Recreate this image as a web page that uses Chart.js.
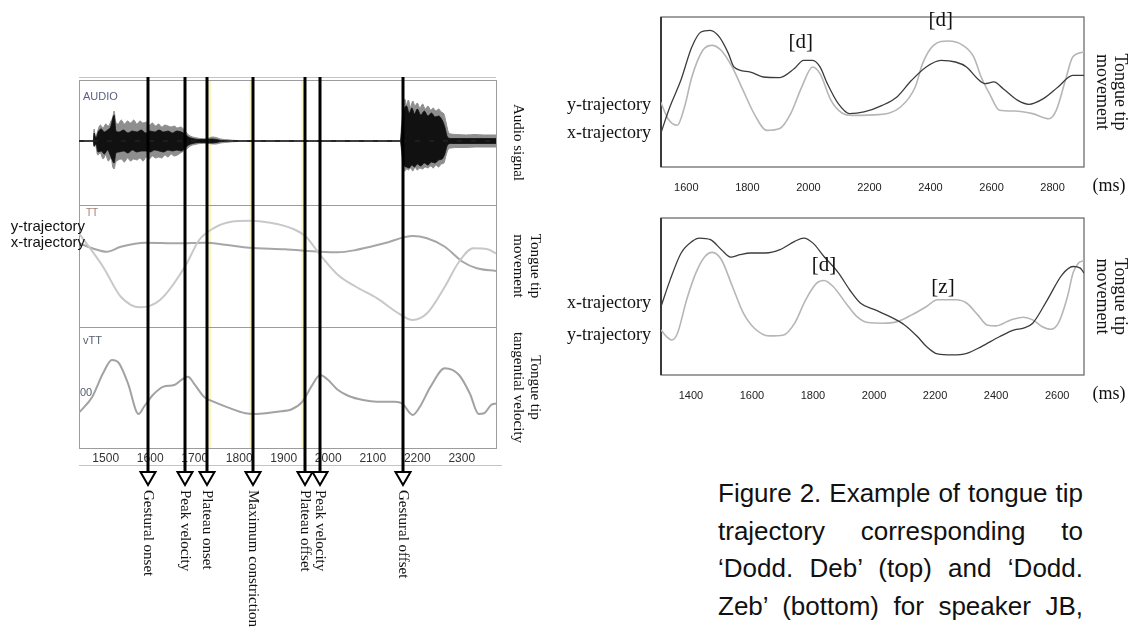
<!DOCTYPE html>
<html>
<head>
<meta charset="utf-8">
<script src="https://cdn.jsdelivr.net/npm/chart.js@4.4.0/dist/chart.umd.min.js"></script>
<style>
  html, body { margin: 0; padding: 0; background: #fff; }
  body { width: 1135px; height: 628px; position: relative; overflow: hidden; }
  canvas { position: absolute; }
  #left { left: 0; top: 0; }
  #deb { left: 560px; top: 0; }
  #zeb { left: 560px; top: 200px; }
  #caption { position: absolute; left: 718px; top: 475px; width: 365px;
    font-family: "Liberation Sans", Arial, sans-serif; font-size: 26px; color: #111; }
  #caption div { height: 37.6px; line-height: 37.6px; text-align: justify; text-align-last: justify; }
</style>
</head>
<body>
<canvas id="left" width="560" height="628"></canvas>
<canvas id="deb" width="575" height="210"></canvas>
<canvas id="zeb" width="575" height="210"></canvas>
<div id="caption">
  <div>Figure 2. Example of tongue tip</div>
  <div>trajectory corresponding to</div>
  <div>‘Dodd. Deb’ (top) and ‘Dodd.</div>
  <div>Zeb’ (bottom) for speaker JB,</div>
</div>
<script>
/* ---------------- left figure: AUDIO / TT / vTT (ms) ---------------- */

const leftRange = [1440, 2377];
const leftTicks = [1500, 1600, 1700, 1800, 1900, 2000, 2100, 2200, 2300];

const eventNames = ["Gestural onset", "Peak velocity", "Plateau onset", "Maximum constriction",
  "Plateau offset", "Peak velocity", "Gestural offset"];
const eventTimes = [1595, 1678, 1728, 1831, 1948, 1982, 2168];
const yellowTimes = [1734, 1826, 1943];

// waveform envelope: [ms, above, below] around the silence line
const audioOuter = [
  [1440, 0.5, 0.5], [1472, 0.5, 0.5], [1474, 12, 6], [1477, 3, 4], [1482, 10, 14], [1488, 16, 12],
  [1494, 13, 18], [1500, 17, 14], [1506, 15, 20], [1512, 20, 17], [1516, 24, 26], [1519, 30, 28],
  [1522, 20, 22], [1528, 17, 19], [1535, 21, 18], [1542, 17, 21], [1549, 20, 17], [1556, 18, 20],
  [1563, 21, 18], [1570, 17, 19], [1577, 20, 17], [1584, 18, 20], [1591, 19, 16], [1598, 16, 18],
  [1605, 18, 15], [1612, 15, 17], [1619, 17, 16], [1626, 14, 17], [1633, 16, 14], [1640, 15, 16],
  [1647, 14, 13], [1654, 15, 15], [1661, 13, 14], [1668, 14, 12], [1675, 12, 10], [1682, 8, 8],
  [1690, 5, 5], [1700, 3.5, 3.5], [1712, 2.5, 2.5], [1725, 2, 2], [1740, 4, 3], [1748, 3.5, 3],
  [1758, 2, 2], [1775, 1.2, 1.2], [1795, 0.5, 0.5], [2162, 0.5, 0.5], [2165, 18, 12], [2168, 30, 26],
  [2172, 42, 30], [2176, 36, 28], [2180, 41, 29], [2185, 34, 27], [2190, 40, 30], [2195, 35, 26],
  [2200, 38, 29], [2206, 33, 27], [2212, 37, 28], [2218, 32, 26], [2224, 35, 27], [2230, 31, 25],
  [2236, 33, 27], [2242, 30, 24], [2248, 32, 26], [2254, 29, 23], [2260, 27, 22], [2265, 18, 14],
  [2270, 9, 8], [2276, 7, 7], [2290, 6.5, 6.5], [2310, 6, 6.5], [2330, 6.5, 6], [2350, 6, 6], [2377, 6, 6]
];
const audioInner = [
  [1440, 0, 0], [1472, 0, 0], [1474, 8, 5], [1478, 3, 3], [1483, 9, 11], [1490, 12, 10],
  [1497, 9, 13], [1504, 11, 9], [1511, 14, 15], [1519, 26, 22], [1523, 10, 12], [1530, 9, 11],
  [1540, 11, 10], [1550, 8, 12], [1560, 10, 9], [1570, 9, 11], [1580, 11, 10], [1590, 8, 10],
  [1600, 10, 11], [1610, 9, 9], [1620, 11, 10], [1630, 9, 11], [1640, 10, 9], [1650, 8, 10],
  [1660, 10, 9], [1670, 9, 10], [1678, 7, 7], [1686, 4, 4], [1695, 2.5, 2.5], [1710, 1.5, 1.5],
  [1740, 2, 2], [1748, 1.5, 1.5], [1760, 0.5, 0.5], [1795, 0, 0], [2162, 0, 0], [2166, 16, 12],
  [2170, 30, 24], [2176, 35, 26], [2182, 28, 27], [2188, 33, 24], [2194, 27, 26], [2200, 32, 23],
  [2208, 26, 25], [2216, 30, 22], [2224, 25, 24], [2232, 28, 21], [2240, 24, 22], [2248, 25, 19],
  [2256, 21, 18], [2262, 14, 13], [2268, 4, 4], [2276, 2.5, 2.5], [2377, 2.5, 2.5]
];

// tongue tip movement (0-100 panel units)
const ttY = [
  [1440, 76.8], [1494, 49.4], [1534, 24.8], [1578, 16.1], [1622, 22.1], [1678, 49.4], [1710, 71.3],
  [1742, 80.9], [1782, 86.3], [1822, 87.1], [1870, 85.5], [1918, 80.9], [1950, 74.0], [1982, 59.0],
  [2022, 42.6], [2062, 33.0], [2110, 23.5], [2158, 11.2], [2190, 5.7], [2222, 11.2], [2262, 33.0],
  [2294, 53.5], [2326, 64.5], [2358, 63.7], [2377, 60.4]
];
const ttX = [
  [1440, 68.6], [1470, 64.5], [1502, 61.7], [1534, 65.8], [1590, 69.1], [1662, 68.6], [1722, 69.1],
  [1774, 67.2], [1822, 65.0], [1902, 63.7], [1982, 61.7], [2022, 61.2], [2062, 63.1], [2126, 68.6],
  [2190, 74.6], [2222, 72.7], [2262, 65.8], [2302, 53.5], [2334, 48.1], [2377, 45.9]
];
// tongue tip tangential velocity
const vtt = [
  [1440, 29.2], [1470, 42.4], [1494, 61.7], [1514, 72.7], [1530, 70.0], [1550, 53.5], [1574, 28.1],
  [1586, 34.1], [1606, 43.8], [1630, 50.7], [1654, 52.1], [1670, 56.2], [1685, 58.9], [1698, 53.5],
  [1722, 41.9], [1742, 38.3], [1774, 33.6], [1814, 28.7], [1838, 28.1], [1886, 30.0], [1918, 32.0],
  [1942, 38.3], [1962, 50.7], [1982, 60.3], [1998, 56.8], [2022, 47.9], [2046, 43.0], [2078, 39.7],
  [2110, 38.3], [2150, 38.3], [2166, 36.9], [2190, 27.3], [2206, 34.1], [2230, 50.7], [2262, 65.9],
  [2294, 60.3], [2318, 45.2], [2338, 28.1], [2350, 28.7], [2366, 35.5], [2377, 36.9]
];

/* ---------------- right figures: 'Dodd. Deb' and 'Dodd. Zeb' ---------------- */

const debRange = [1517, 2903];
const debTicks = [1600, 1800, 2000, 2200, 2400, 2600, 2800];
const debX = [
  [1516, 22.2], [1546, 40.0], [1582, 57.8], [1618, 80.0], [1648, 90.0], [1678, 91.1], [1708, 86.7],
  [1738, 75.6], [1756, 66.7], [1810, 63.3], [1852, 60.0], [1906, 59.6], [1954, 65.6], [1984, 71.1],
  [2014, 71.1], [2038, 66.7], [2062, 55.6], [2098, 42.2], [2134, 35.6], [2182, 36.7], [2242, 41.1],
  [2290, 46.7], [2338, 57.8], [2386, 66.7], [2434, 71.1], [2482, 70.0], [2518, 66.7], [2554, 58.9],
  [2578, 55.6], [2608, 56.7], [2638, 52.2], [2686, 44.4], [2722, 41.8], [2770, 45.6], [2818, 53.3],
  [2866, 61.1], [2903, 61.1]
];
const debY = [
  [1516, 43.3], [1540, 32.2], [1570, 27.8], [1594, 40.0], [1618, 60.0], [1654, 77.8], [1684, 81.1],
  [1714, 77.8], [1750, 66.7], [1786, 51.1], [1822, 35.6], [1864, 24.4], [1906, 25.6], [1942, 35.6],
  [1978, 53.3], [2014, 66.7], [2038, 62.2], [2074, 44.4], [2110, 36.0], [2146, 34.4], [2230, 34.9],
  [2302, 40.0], [2350, 53.3], [2374, 68.9], [2410, 81.1], [2458, 84.0], [2506, 81.1], [2542, 73.3],
  [2566, 60.0], [2596, 47.8], [2626, 37.8], [2674, 37.3], [2734, 35.6], [2788, 32.2], [2812, 37.8],
  [2842, 57.8], [2866, 73.3], [2903, 76.7]
];
const debMarks = [["[d]", 1975, 82.7], ["[d]", 2434, 98]];

const zebRange = [1302, 2688];
const zebTicks = [1400, 1600, 1800, 2000, 2200, 2400, 2600];
const zebX = [
  [1302, 43.6], [1332, 60.6], [1368, 77.7], [1404, 85.1], [1428, 87.2], [1464, 86.2], [1500, 79.8],
  [1530, 75.1], [1560, 76.6], [1596, 77.7], [1644, 77.7], [1692, 79.8], [1740, 85.1], [1770, 87.2],
  [1800, 84.0], [1836, 75.5], [1884, 64.9], [1920, 54.3], [1956, 45.7], [2004, 41.5], [2052, 37.2],
  [2100, 31.9], [2142, 24.5], [2172, 18.1], [2208, 13.4], [2256, 12.8], [2304, 13.8], [2352, 18.1],
  [2412, 24.5], [2460, 28.7], [2490, 29.8], [2520, 33.0], [2568, 47.9], [2616, 63.8], [2652, 69.1],
  [2676, 68.1], [2688, 64.9]
];
const zebY = [
  [1302, 28.7], [1320, 24.5], [1338, 22.3], [1356, 26.6], [1386, 47.9], [1416, 64.9], [1446, 75.5],
  [1470, 78.1], [1500, 73.4], [1536, 56.4], [1572, 39.4], [1608, 29.8], [1656, 24.9], [1704, 25.5],
  [1740, 33.0], [1776, 47.9], [1812, 58.5], [1836, 60.2], [1866, 56.4], [1908, 45.7], [1944, 37.2],
  [1980, 33.4], [2028, 33.0], [2076, 34.0], [2124, 38.3], [2172, 43.6], [2208, 47.9], [2268, 47.9],
  [2304, 45.7], [2340, 38.3], [2370, 31.9], [2400, 31.3], [2448, 35.1], [2490, 36.8], [2520, 35.1],
  [2550, 30.9], [2580, 29.1], [2604, 33.0], [2634, 50.0], [2652, 64.9], [2670, 71.3], [2688, 72.8]
];
const zebMarks = [["[d]", 1836, 70], ["[z]", 2226, 56]];

/* ---------------- helpers ---------------- */

const pts = (arr) => arr.map(([x, y]) => ({ x, y }));
const SERIF = '"Liberation Serif", "Times New Roman", serif';
const SANS = '"Liberation Sans", Arial, sans-serif';

// curve name written left of the plot, at the height where the curve starts
const tagPlugin = {
  id: "trajTags",
  afterDatasetsDraw(chart, args, opts) {
    const { ctx, chartArea } = chart;
    ctx.save();
    ctx.font = opts.font;
    ctx.fillStyle = "#111";
    ctx.textAlign = "right";
    ctx.textBaseline = "middle";
    chart.data.datasets.forEach((ds, i) => {
      if (!ds.tag) return;
      const p = chart.getDatasetMeta(i).data[0];
      ctx.fillText(ds.tag, chartArea.left + opts.dx, p.y + (ds.tagDy || 0));
    });
    ctx.restore();
  },
};

/* ---------------- left chart ---------------- */

const leftPlugin = {
  id: "leftDeco",
  beforeDatasetsDraw(chart) {
    const { ctx, chartArea: a, scales } = chart;
    const x = scales.x;
    ctx.save();
    // pale yellow segment boundaries
    ctx.strokeStyle = "#faf5c4";
    ctx.lineWidth = 3;
    yellowTimes.forEach((t) => {
      const px = x.getPixelForValue(t);
      ctx.beginPath();
      ctx.moveTo(px, a.top);
      ctx.lineTo(px, a.bottom);
      ctx.stroke();
    });
    // panel frames
    ctx.strokeStyle = "#9c9c9c";
    ctx.lineWidth = 1;
    ["yA", "yT", "yV"].forEach((id) => {
      const s = scales[id];
      ctx.strokeRect(a.left + 0.5, s.top + 0.5, a.right - a.left, s.bottom - s.top);
    });
    ctx.strokeStyle = "#c4c4c4";
    ctx.beginPath();
    ctx.moveTo(a.left, a.top - 2.5);
    ctx.lineTo(a.right, a.top - 2.5);
    ctx.moveTo(a.left, a.bottom + 17.5);
    ctx.lineTo(a.right + 6, a.bottom + 17.5);
    ctx.stroke();
    // panel tags
    ctx.textBaseline = "middle";
    ctx.textAlign = "left";
    ctx.font = "11px " + SANS;
    ctx.fillStyle = "#5a5f80";
    ctx.fillText("AUDIO", a.left + 4, scales.yA.top + 17);
    ctx.fillStyle = "#a08070";
    ctx.font = "10px " + SANS;
    ctx.fillText("TT", a.left + 7, scales.yT.top + 8);
    ctx.fillStyle = "#556070";
    ctx.font = "11px " + SANS;
    ctx.fillText("vTT", a.left + 4, scales.yV.top + 14);
    ctx.fillText("00", a.left + 1, scales.yV.top + 66);
    ctx.restore();
  },
  afterDraw(chart) {
    const { ctx, chartArea: a, scales } = chart;
    ctx.save();
    eventTimes.forEach((t, i) => {
      const px = Math.round(scales.x.getPixelForValue(t));
      const headTop = a.bottom + 24;
      ctx.strokeStyle = "#000";
      ctx.lineWidth = 3;
      ctx.beginPath();
      ctx.moveTo(px, a.top - 3);
      ctx.lineTo(px, headTop);
      ctx.stroke();
      ctx.lineWidth = 2;
      ctx.fillStyle = "#fff";
      ctx.beginPath();
      ctx.moveTo(px - 7.5, headTop);
      ctx.lineTo(px + 7.5, headTop);
      ctx.lineTo(px, headTop + 13);
      ctx.closePath();
      ctx.fill();
      ctx.stroke();
      ctx.save();
      ctx.translate(px, headTop + 18);
      ctx.rotate(Math.PI / 2);
      ctx.fillStyle = "#111";
      ctx.font = "15px " + SERIF;
      ctx.textAlign = "left";
      ctx.textBaseline = "middle";
      ctx.fillText(eventNames[i], 0, 0);
      ctx.restore();
    });
    ctx.restore();
  },
};

const stackedAxis = (weight, min, max, text, pad) => ({
  type: "linear",
  axis: "y",
  position: "right",
  stack: "panels",
  stackWeight: weight,
  min: min,
  max: max,
  afterFit: (s) => { s.width = 47; },
  grid: { display: false, drawTicks: false },
  border: { display: false },
  ticks: { display: false },
  title: {
    display: true,
    text: text,
    color: "#111",
    font: { family: SERIF, size: 15, lineHeight: 1.1 },
    padding: { top: pad, bottom: 0 },
  },
});

new Chart(document.getElementById("left"), {
  type: "line",
  data: {
    datasets: [
      { data: audioOuter.map(([t, u]) => ({ x: t, y: u })), yAxisID: "yA", fill: "+1", order: 2,
        borderColor: "#8e8e8e", backgroundColor: "#8e8e8e", borderWidth: 1, tension: 0 },
      { data: audioOuter.map(([t, u, d]) => ({ x: t, y: -d })), yAxisID: "yA", fill: false, order: 2,
        borderColor: "#8e8e8e", borderWidth: 1, tension: 0 },
      { data: audioInner.map(([t, u]) => ({ x: t, y: u })), yAxisID: "yA", fill: "+1", order: 1,
        borderColor: "#111", backgroundColor: "#111", borderWidth: 0.8, tension: 0 },
      { data: audioInner.map(([t, u, d]) => ({ x: t, y: -d })), yAxisID: "yA", fill: false, order: 1,
        borderColor: "#111", borderWidth: 0.8, tension: 0 },
      { data: leftRange.map((t) => ({ x: t, y: 0 })), yAxisID: "yA", order: 0,
        borderColor: "#222", borderWidth: 1.3, borderDash: [5, 9], tension: 0 },
      { data: pts(ttY), yAxisID: "yT", tag: "y-trajectory", tagDy: -6,
        borderColor: "#c8c8c8", borderWidth: 2 },
      { data: pts(ttX), yAxisID: "yT", tag: "x-trajectory", tagDy: 0,
        borderColor: "#a6a6a6", borderWidth: 2 },
      { data: pts(vtt), yAxisID: "yV", borderColor: "#a2a2a2", borderWidth: 2 },
    ],
  },
  options: {
    responsive: false,
    animation: false,
    layout: { padding: { left: 79, top: 80, right: 17, bottom: 160 } },
    elements: { point: { radius: 0 }, line: { cubicInterpolationMode: "monotone" } },
    plugins: {
      legend: { display: false },
      tooltip: { enabled: false },
      trajTags: { font: "15px " + SANS, dx: 6 },
    },
    scales: {
      x: {
        type: "linear",
        min: leftRange[0],
        max: leftRange[1],
        afterBuildTicks: (s) => { s.ticks = leftTicks.map((v) => ({ value: v })); },
        afterFit: (s) => { s.height = 20; },
        grid: { display: false, drawTicks: false },
        border: { display: false },
        ticks: { padding: 3, maxRotation: 0, autoSkip: false, color: "#333",
          font: { family: SANS, size: 12 }, callback: (v) => String(v) },
      },
      yA: stackedAxis(125, -64, 61, "Audio signal", 16.5),
      yT: stackedAxis(122, 0, 100, ["Tongue tip", "movement"], 0),
      yV: stackedAxis(121, 0, 100, ["Tongue tip", "tangential velocity"], 0),
    },
  },
  plugins: [leftPlugin, tagPlugin],
});

/* ---------------- right charts ---------------- */

const panelPlugin = (marks) => ({
  id: "panelDeco",
  beforeDatasetsDraw(chart) {
    const { ctx, chartArea: a } = chart;
    ctx.save();
    ctx.strokeStyle = "#6e6e6e";
    ctx.lineWidth = 1.3;
    ctx.strokeRect(a.left, a.top, a.right - a.left, a.bottom - a.top);
    ctx.strokeStyle = "#3a3a3a";
    ctx.lineWidth = 2;
    ctx.beginPath();
    ctx.moveTo(a.left, a.top);
    ctx.lineTo(a.left, a.bottom);
    ctx.stroke();
    ctx.restore();
  },
  afterDatasetsDraw(chart) {
    const { ctx, chartArea: a, scales } = chart;
    ctx.save();
    ctx.fillStyle = "#111";
    ctx.textAlign = "center";
    ctx.textBaseline = "middle";
    ctx.font = "21px " + SERIF;
    marks.forEach(([txt, t, v]) => {
      ctx.fillText(txt, scales.x.getPixelForValue(t), scales.y.getPixelForValue(v));
    });
    ctx.font = "18px " + SERIF;
    ctx.fillText("(ms)", a.right + 25, a.bottom + 19);
    ctx.restore();
  },
});

function trajectoryChart(id, range, ticks, xTraj, yTraj, marks, dys, pad) {
  return new Chart(document.getElementById(id), {
    type: "line",
    data: {
      datasets: [
        { data: pts(xTraj), tag: "x-trajectory", tagDy: dys[0], borderColor: "#3c3c3c", borderWidth: 1.3 },
        { data: pts(yTraj), tag: "y-trajectory", tagDy: dys[1], borderColor: "#b6b6b6", borderWidth: 1.6 },
      ],
    },
    options: {
      responsive: false,
      animation: false,
      layout: { padding: pad },
      elements: { point: { radius: 0 }, line: { cubicInterpolationMode: "monotone" } },
      plugins: {
        legend: { display: false },
        tooltip: { enabled: false },
        trajTags: { font: "18px " + SERIF, dx: -10 },
      },
      scales: {
        x: {
          type: "linear",
          min: range[0],
          max: range[1],
          afterBuildTicks: (s) => { s.ticks = ticks.map((v) => ({ value: v })); },
          afterFit: (s) => { s.height = 30; },
          grid: { display: false, drawTicks: false },
          border: { display: false },
          ticks: { padding: 14, maxRotation: 0, autoSkip: false, color: "#222",
            font: { family: SANS, size: 11 }, callback: (v) => String(v) },
        },
        y: {
          type: "linear",
          position: "right",
          min: 0,
          max: 100,
          afterFit: (s) => { s.width = 45; },
          grid: { display: false, drawTicks: false },
          border: { display: false },
          ticks: { display: false },
          title: {
            display: true,
            text: ["Tongue tip", "movement"],
            color: "#111",
            font: { family: SERIF, size: 18, lineHeight: 1 },
            padding: { top: 0, bottom: 0 },
          },
        },
      },
    },
    plugins: [tagPlugin, panelPlugin(marks)],
  });
}

trajectoryChart("deb", debRange, debTicks, debX, debY, debMarks, [0, 3],
  { left: 101, top: 17, right: 6, bottom: 13 });
trajectoryChart("zeb", zebRange, zebTicks, zebX, zebY, zebMarks, [-3, 5],
  { left: 101, top: 18, right: 6, bottom: 5 });
</script>
</body>
</html>
